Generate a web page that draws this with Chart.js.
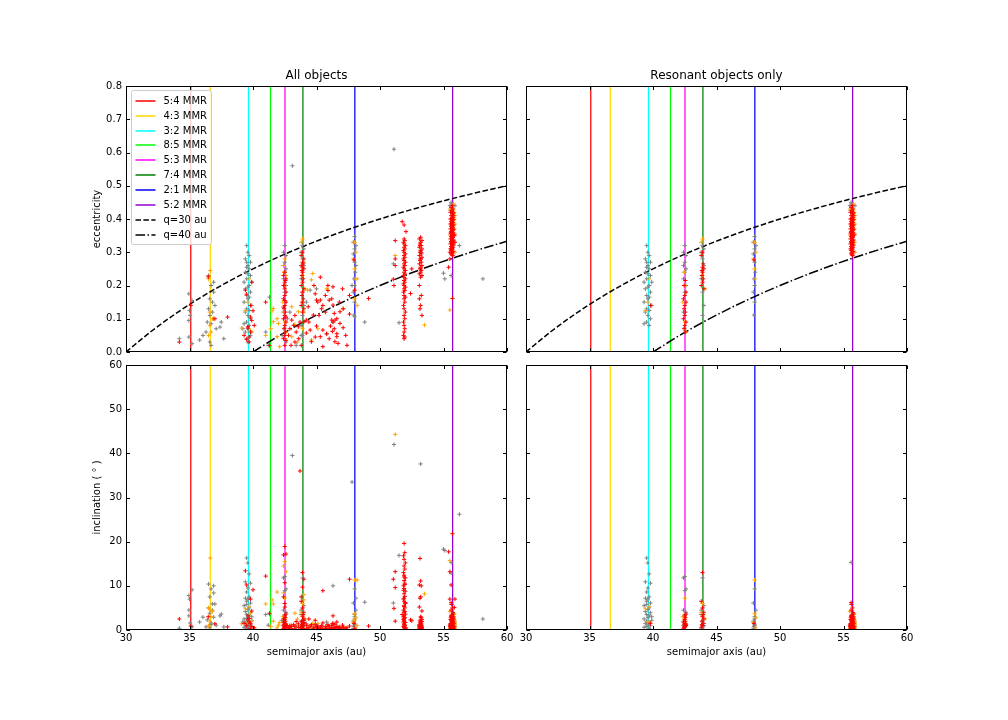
<!DOCTYPE html>
<html><head><meta charset="utf-8">
<script src="https://cdn.jsdelivr.net/npm/chart.js@4.4.0/dist/chart.umd.min.js"></script>
<style>
html,body{margin:0;padding:0;background:#fff;}
#wrap{position:relative;width:1008px;height:720px;overflow:hidden;}
canvas{position:absolute;left:0;top:0;pointer-events:none;}
</style></head><body>
<div id="wrap">
<canvas id="cTL" width="1008" height="720"></canvas>
<canvas id="cTR" width="1008" height="720"></canvas>
<canvas id="cBL" width="1008" height="720"></canvas>
<canvas id="cBR" width="1008" height="720"></canvas>
</div>
<script>
// ---------- axes / ticks ----------
const xTicks = [30, 35, 40, 45, 50, 55, 60];
const eTicks = [0, 0.1, 0.2, 0.3, 0.4, 0.5, 0.6, 0.7, 0.8];
const iTicks = [0, 10, 20, 30, 40, 50, 60];

// ---------- resonance locations ----------
const resLabels = ['5:4 MMR', '4:3 MMR', '3:2 MMR', '8:5 MMR', '5:3 MMR', '7:4 MMR', '2:1 MMR', '5:2 MMR'];
const resA = [35.10, 36.64, 39.64, 41.38, 42.52, 43.93, 48.02, 55.72];
const resColors = ['#ff0000', '#ffd700', '#00ffff', '#00ff00', '#ff00ff', '#008000', '#0000ff', '#9400d3'];

// ---------- perihelion curves (a, e) ----------
const q30A = [30, 32, 34, 36, 38, 40, 42, 44, 46, 48, 50, 52, 54, 56, 58, 60];
const q30E = [0, 0.0625, 0.1176, 0.1667, 0.2105, 0.25, 0.2857, 0.3182, 0.3478, 0.375, 0.4, 0.4231, 0.4444, 0.4643, 0.4828, 0.5];
const q40A = [40, 42, 44, 46, 48, 50, 52, 54, 56, 58, 60];
const q40E = [0, 0.0476, 0.0909, 0.1304, 0.1667, 0.2, 0.2308, 0.2593, 0.2857, 0.3103, 0.3333];

// ---------- objects: [a (au), e, i (deg), resonant flag] ----------
const gray54 = [[34.95,0.175,7.8],[35.2,0.155,9.1],[35.0,0.125,7.0],[34.95,0.095,4.5],[34.95,0.045,3.2],[35.05,0.11,1.6],[35.2,0.025,0.7],[34.2,0.04,0.4]];
const red54 = [[34.2,0.03,2.5],[35.1,0.14,0.9]];

const gray43 = [[36.5,0.23,10.4],[36.9,0.21,10.0],[36.7,0.2,9.3],[36.9,0.18,8.4],[36.6,0.16,7.5],[36.8,0.15,5.9],[37.0,0.14,5.9],[36.5,0.13,5.0],[36.8,0.12,4.5],[36.6,0.11,3.8],[36.9,0.1,2.9],[36.4,0.09,2.3],[36.7,0.085,1.6],[37.1,0.07,1.1],[36.3,0.06,0.7],[36.06,0.05,2.9],[35.8,0.036,1.8],[37.5,0.09,3.6],[37.4,0.075,3.2],[37.7,0.04,0.7],[36.6,0.03,0.5],[36.7,0.02,1.2]];
const orange43 = [[36.64,0.245,16.3],[36.5,0.22,5.0],[36.6,0.12,4.6],[36.8,0.1,4.2],[36.6,0.08,2.0],[36.7,0.06,3.0],[36.5,0.05,1.0]];
const red43 = [[36.48,0.226,3.0],[37.0,0.1,1.4],[38.0,0.105,0.7]];

const gray32 = [[39.5,0.32,16.3,1],[39.6,0.30,15.2,1],[39.7,0.29,12.7,1],[39.4,0.28,10.9,1],[39.8,0.27,10.6,1],[39.6,0.26,9.5,1],[39.5,0.255,8.6,1],[39.7,0.25,7.5,1],[39.4,0.24,7.2,1],[39.6,0.235,7.0,1],[39.8,0.23,6.1,1],[39.5,0.22,5.8,1],[39.3,0.21,5.5,1],[39.7,0.2,5.0,1],[39.6,0.195,4.6,1],[39.4,0.19,4.2,1],[39.8,0.18,3.9,1],[39.5,0.17,3.5,1],[39.7,0.165,3.2,1],[39.6,0.16,2.8,1],[39.3,0.15,2.5,1],[39.9,0.14,2.2,1],[39.5,0.13,2.0,1],[39.7,0.125,1.7,1],[39.4,0.12,1.5,1],[39.6,0.11,1.3,1],[39.8,0.1,1.0,1],[39.5,0.09,0.8,1],[39.3,0.085,0.6,1],[39.7,0.08,0.4,1],[39.6,0.07,0.3,0],[39.4,0.06,0.5,0],[39.8,0.05,1.2,0],[39.5,0.04,2.6,0],[39.6,0.03,0.9,0],[39.2,0.07,1.8,0],[39.9,0.21,3.0,1],[39.5,0.27,6.5,1]];
const red32 = [[39.4,0.186,13.4],[39.5,0.174,10.2],[40.0,0.124,9.1],[39.8,0.105,7.0],[39.9,0.095,4.3],[39.6,0.072,3.2],[39.7,0.045,1.8],[39.5,0.038,1.0],[40.1,0.08,0.5],[39.6,0.076,2.3],[39.8,0.06,0.3],[39.3,0.05,1.5],[39.9,0.21,0.8],[39.7,0.03,2.6],[39.8,0.14,1.5,1]];
const orange32 = [[39.4,0.124,4.8,1],[39.1,0.072,1.4],[39.8,0.065,3.9],[39.9,0.06,2.0],[39.6,0.15,1.8,1],[39.7,0.22,5.3,1]];

const gray85 = [[41.3,0.165,3.6],[41.2,0.02,1.1],[41.0,0.06,3.5]];
const orange85 = [[41.5,0.124,6.8],[41.0,0.05,5.9],[41.4,0.07,0.8],[41.9,0.1,8.6]];
const red85 = [[41.0,0.15,12.2],[41.3,0.02,3.8]];

const gray53 = [[42.5,0.32,12.1,1],[42.4,0.30,11.8,1],[42.6,0.29,9.3,1],[42.5,0.27,8.9,1],[42.4,0.26,4.5,1],[42.6,0.25,4.0,1],[42.5,0.24,3.0,1],[42.4,0.22,2.0,1],[42.6,0.20,1.5,1],[42.5,0.18,3.5,1],[42.4,0.12,1.0,1],[42.5,0.072,0.6,1],[42.3,0.05,2.2],[42.7,0.10,0.4],[42.6,0.03,1.2]];
const red53 = [[42.5,0.24,18.9],[42.4,0.23,17.0],[42.6,0.22,17.2],[42.5,0.21,10.7],[42.4,0.2,7.5],[42.5,0.19,5.2],[42.6,0.18,3.6,1],[42.5,0.17,2.4,1],[42.4,0.16,1.8,1],[42.6,0.15,1.2,1],[42.5,0.14,0.8,1],[42.45,0.13,0.5,1],[42.55,0.12,2.8,1],[42.5,0.11,1.5,1],[42.4,0.10,0.3,1],[42.6,0.09,1.0,1],[42.5,0.08,3.2,1],[42.45,0.07,0.7,1],[42.55,0.06,2.0,1],[42.5,0.05,0.4],[42.4,0.04,1.1],[42.6,0.035,0.9],[42.5,0.02,0.2],[42.5,0.155,6.0],[42.4,0.135,2.5],[42.6,0.105,0.6],[42.45,0.2,1.3,1],[42.55,0.215,0.9,1]];
const orange53 = [[42.5,0.28,15.5],[42.4,0.26,14.5],[42.6,0.23,13.2],[42.5,0.2,7.2,1],[42.4,0.12,8.4],[42.5,0.09,2.5,1],[42.6,0.06,1.0,1],[42.55,0.04,0.5],[42.35,0.15,3.0,1],[42.45,0.24,1.8,1]];

const gray74 = [[43.9,0.32,11.8,1],[44.0,0.31,5.5,1],[43.8,0.3,3.5,1],[43.9,0.28,2.0,1],[44.0,0.26,1.0,1],[43.8,0.22,4.5,1],[43.9,0.18,0.5,1],[44.0,0.14,1.5,1],[43.9,0.11,0.8,1],[43.8,0.08,0.3],[43.9,0.05,1.0],[43.1,0.56,39.5]];
const red74 = [[43.9,0.30,13.0,1],[43.8,0.29,6.5,1],[44.0,0.28,11.5],[43.9,0.27,9.7],[43.8,0.26,7.5],[43.9,0.255,5.0,1],[44.0,0.25,4.0,1],[43.9,0.24,3.0,1],[43.85,0.23,2.0,1],[43.95,0.22,1.5,1],[43.9,0.21,1.0,1],[43.8,0.2,0.5,1],[44.0,0.19,2.5,1],[43.9,0.18,0.8],[43.85,0.17,1.8],[43.95,0.16,0.3],[43.9,0.15,1.2],[43.8,0.14,0.6],[44.0,0.13,2.2],[43.9,0.12,0.4],[43.7,0.09,36.0],[43.95,0.265,3.5,1],[43.85,0.245,1.2,1]];
const orange74 = [[43.9,0.34,6.0,1],[43.8,0.33,4.0,1],[44.0,0.27,8.0],[43.9,0.23,3.3,1],[44.1,0.19,2.5,1],[43.85,0.15,1.0],[44.0,0.12,6.8],[43.9,0.07,0.5]];

const redCls = [[45.3,0.225,0.4],[45.9,0.185,1.2],[45.0,0.156,0.6],[45.1,0.15,0.9],[46.0,0.156,0.3],[46.3,0.141,1.5],[46.8,0.15,0.7],[44.35,0.136,0.5],[45.4,0.13,1.0],[44.75,0.111,0.3],[45.7,0.12,0.8],[46.46,0.096,1.3],[46.85,0.121,0.4],[44.2,0.096,1.1],[45.0,0.078,0.5],[46.1,0.078,0.2],[44.5,0.066,0.9],[45.5,0.066,1.6],[46.4,0.07,0.6],[43.57,0.076,1.4],[43.05,0.096,0.8],[43.3,0.11,0.4],[42.9,0.07,1.0],[44.2,0.057,0.3],[45.3,0.046,0.7],[46.6,0.046,0.5],[44.6,0.031,1.2],[45.5,0.016,0.4],[43.6,0.04,0.6],[43.4,0.06,1.9],[45.3,0.156,0.2],[45.9,0.2,0.8],[46.3,0.196,0.5],[47.05,0.19,1.1],[46.2,0.16,0.3],[47.1,0.13,0.6],[47.6,0.114,0.9],[46.4,0.116,0.4],[46.2,0.096,1.0],[46.85,0.086,0.3],[47.1,0.073,0.5],[46.25,0.062,1.4],[46.6,0.055,0.8],[46.45,0.031,0.2],[46.7,0.026,0.6],[44.9,0.175,2.2],[44.0,0.09,1.7],[43.3,0.03,0.9],[44.8,0.2,0.7],[45.7,0.17,0.4],[46.6,0.1,1.8],[45.2,0.11,0.2],[44.4,0.09,2.5],[46.0,0.04,0.9],[45.8,0.055,0.3],[44.9,0.045,1.3],[47.3,0.05,0.4],[43.8,0.02,0.6],[45.5,0.14,8.9],[46.3,0.09,3.2],[47.6,0.17,11.5],[49.1,0.161,0.9],[47.4,0.02,0.5],[43.0,0.02,0.3],[42.8,0.05,0.5],[43.2,0.08,1.2]];
const orangeCls = [[44.7,0.236,1.5],[45.8,0.19,0.8],[41.6,0.131,2.0],[42.0,0.086,1.1],[41.9,0.046,0.5],[43.05,0.136,1.2],[43.3,0.083,3.8],[43.05,0.046,0.3],[43.57,0.121,1.0],[44.6,0.036,0.6],[44.6,0.217,0.4],[42.1,0.016,1.7],[41.6,0.091,5.9],[43.5,0.03,2.5],[45.1,0.07,1.5],[47.1,0.13,0.8],[44.3,0.186,1.1],[48.2,0.22,11.3]];
const grayCls = [[45.0,0.19,1.0],[44.5,0.186,0.4],[45.8,0.054,1.8],[43.8,0.05,2.0],[46.3,0.09,10.0],[43.4,0.02,0.8],[44.2,0.15,1.5],[42.9,0.12,0.6],[48.8,0.09,6.3]];

const gray21 = [[48.0,0.347,9.3,1],[47.9,0.33,6.1,1],[48.1,0.32,4.5,1],[48.0,0.31,3.0,1],[47.9,0.295,2.0,1],[48.0,0.27,1.2,1],[48.05,0.24,0.6,1],[47.95,0.22,1.5,1],[48.0,0.2,2.5,1],[47.9,0.18,0.4,1],[48.0,0.15,1.0,1],[47.95,0.111,0.8,1],[48.0,0.106,3.5],[47.8,0.2,33.5],[48.1,0.26,7.2]];
const orange21 = [[48.0,0.33,11.3,1],[48.1,0.3,2.8,1],[47.9,0.28,1.8,1],[48.0,0.25,3.7,1],[48.05,0.22,0.5,1],[48.0,0.16,2.2],[48.2,0.14,1.0]];
const red21 = [[47.95,0.277,1.5,1],[48.0,0.186,0.3]];

const red52col = [[51.75,0.392,3.5],[51.9,0.382,1.2],[52.05,0.362,0.5],[51.9,0.34,19.6],[51.95,0.335,17.5],[51.85,0.33,16.8],[51.9,0.325,16.0],[52.0,0.32,15.2],[51.9,0.315,14.5],[51.95,0.31,13.8],[51.85,0.305,13.0],[51.9,0.3,12.4],[52.0,0.295,11.8],[51.9,0.29,11.2],[51.95,0.285,10.6],[51.85,0.28,10.0],[51.9,0.275,9.4],[52.0,0.27,8.8],[51.9,0.265,8.2],[51.95,0.26,7.6],[51.85,0.255,7.0],[51.9,0.25,6.5],[52.0,0.245,6.0],[51.9,0.24,5.5],[51.95,0.235,5.0],[51.85,0.23,4.5],[51.9,0.225,4.0],[52.0,0.22,3.6],[51.9,0.215,3.2],[51.95,0.21,2.8],[51.85,0.205,2.4],[51.9,0.2,2.0],[52.0,0.195,1.7],[51.9,0.19,1.4],[51.95,0.185,1.1],[51.85,0.18,0.8],[51.9,0.17,0.5],[52.0,0.165,0.3],[51.9,0.16,12.0],[51.95,0.15,10.3],[51.85,0.14,9.0],[51.9,0.13,7.2],[52.0,0.12,6.2],[51.9,0.11,5.3],[51.95,0.1,4.2],[51.85,0.09,3.0],[51.9,0.08,2.2],[51.95,0.07,1.0],[51.9,0.06,0.6],[51.85,0.05,1.8],[51.95,0.045,0.2],[51.9,0.04,2.6],[51.2,0.335,13.2],[51.2,0.28,9.6],[51.05,0.219,11.5],[51.1,0.2,4.9],[52.4,0.176,2.3],[51.2,0.26,2.0],[52.5,0.25,2.1]];
const gray52col = [[51.05,0.265,6.1],[51.5,0.088,16.9],[51.1,0.61,42.0]];
const orange52col = [[51.2,0.29,44.3]];

const red53col = [[53.2,0.345,0.3],[53.1,0.34,1.0],[53.3,0.335,0.6],[53.2,0.33,2.0],[53.15,0.325,0.2],[53.25,0.32,1.4],[53.1,0.315,0.8],[53.3,0.31,0.4],[53.2,0.305,1.8],[53.15,0.3,0.1],[53.25,0.295,1.1],[53.1,0.29,0.5],[53.3,0.285,2.4],[53.2,0.28,0.7],[53.15,0.275,1.6],[53.25,0.27,0.3],[53.1,0.265,1.2],[53.3,0.26,0.9],[53.2,0.255,0.2],[53.15,0.25,2.2],[53.25,0.245,0.6],[53.2,0.24,1.3],[53.1,0.235,0.4],[53.3,0.23,1.9],[53.2,0.225,0.8],[53.15,0.32,16.2],[53.2,0.25,11.1],[53.1,0.2,10.2],[53.25,0.17,10.0],[53.2,0.14,7.5],[53.15,0.13,7.2],[53.1,0.16,5.2],[53.3,0.11,4.3],[53.2,0.28,3.0],[53.25,0.3,2.8]];
const gray53col = [[53.2,0.3,37.6]];
const orange53col = [[53.5,0.081,8.2]];

const red52 = [[55.7,0.44,0.5,1],[55.6,0.435,1.2,1],[55.75,0.43,0.3,1],[55.65,0.425,2.0,1],[55.55,0.42,0.8,1],[55.8,0.418,1.5,1],[55.7,0.415,0.2,1],[55.6,0.41,3.0,1],[55.75,0.405,0.6,1],[55.65,0.402,1.8,1],[55.55,0.4,0.4,1],[55.8,0.398,2.5,1],[55.7,0.395,1.0,1],[55.6,0.392,0.1,1],[55.75,0.39,4.0,1],[55.65,0.387,0.7,1],[55.55,0.385,1.4,1],[55.8,0.382,0.3,1],[55.7,0.38,2.2,1],[55.6,0.377,0.9,1],[55.75,0.375,0.5,1],[55.65,0.372,3.4,1],[55.55,0.37,1.1,1],[55.8,0.368,0.2,1],[55.7,0.365,1.6,1],[55.6,0.362,0.6,1],[55.75,0.36,2.8,1],[55.65,0.357,0.4,1],[55.55,0.355,1.3,1],[55.85,0.352,0.8,1],[55.7,0.35,5.0,1],[55.6,0.347,0.3,1],[55.75,0.345,1.9,1],[55.65,0.342,0.7,1],[55.55,0.34,2.4,1],[55.8,0.337,0.2,1],[55.7,0.335,1.2,1],[55.6,0.332,6.2,1],[55.75,0.33,0.5,1],[55.65,0.327,1.7,1],[55.55,0.325,0.9,1],[55.8,0.322,3.0,1],[55.7,0.32,0.4,1],[55.6,0.317,1.5,1],[55.75,0.315,0.1,1],[55.65,0.312,2.6,1],[55.55,0.31,0.8,1],[55.7,0.307,1.1,1],[55.6,0.305,4.5,1],[55.75,0.302,0.3,1],[55.65,0.3,1.4,1],[55.7,0.297,0.6,1],[55.6,0.295,2.1,1],[55.68,0.292,0.9,1],[55.72,0.29,0.2,1],[55.62,0.385,5.8,1],[55.78,0.41,3.6,1],[55.58,0.36,2.9,1],[55.68,0.42,1.0,1],[55.72,0.37,0.4,1],[55.62,0.33,3.3,1],[55.66,0.4,0.5,1],[55.74,0.35,1.6,1],[55.64,0.38,0.9,1],[55.7,0.31,2.3,1],[55.4,0.255,17.7],[55.7,0.161,21.8],[55.5,0.30,13.2],[55.6,0.31,10.2],[55.5,0.28,7.0],[55.9,0.33,7.0],[55.85,0.35,5.1]];
const orange52 = [[55.8,0.445,1.0,1],[55.75,0.43,2.2,1],[55.85,0.42,0.6,1],[55.9,0.41,1.5,1],[55.85,0.4,3.6,1],[55.9,0.385,0.8,1],[55.85,0.37,2.5,1],[55.9,0.355,1.2,1],[55.5,0.43,4.2,1],[55.55,0.35,0.5,1],[55.88,0.33,1.8,1],[55.92,0.3,0.4,1],[55.5,0.126,15.7]];
const gray52 = [[55.6,0.45,15.3,1],[55.5,0.44,1.0,1],[55.65,0.445,3.0,1],[55.55,0.425,0.5,1],[55.9,0.44,2.0,1],[55.0,0.237,18.3],[55.1,0.22,18.0],[56.25,0.32,26.2],[58.1,0.22,2.5],[55.6,0.23,12.9]];

const grayAll = [].concat(gray54, gray43, gray32, gray85, gray53, gray74, grayCls, gray21, gray52col, gray53col, gray52);
const orangeAll = [].concat(orange43, orange32, orange85, orange53, orange74, orangeCls, orange21, orange52col, orange53col, orange52);
const redAll = [].concat(red54, red43, red32, red85, red53, red74, redCls, red21, red52col, red53col, red52);

// ---------- chart building ----------
Chart.defaults.font.family = 'DejaVu Sans';
Chart.defaults.font.size = 10;
Chart.defaults.color = '#000';

function pts(list, col, onlyRes) {
  return list.filter(p => !onlyRes || p[3] === 1).map(p => ({x: p[0], y: p[col]}));
}

function curve(xs, ys) { return xs.map((x, k) => ({x: x, y: ys[k]})); }

const framePlugin = {
  id: 'frame',
  afterDraw(chart, args, opts) {
    const ctx = chart.ctx;
    const a = chart.chartArea;
    const xs = chart.scales.x, ys = chart.scales.y;
    const L = Math.round(a.left) + 0.5, R = Math.round(a.right) - 0.5;
    const T = Math.round(a.top) + 0.5, B = Math.round(a.bottom) - 0.5;
    ctx.save();
    ctx.strokeStyle = '#000';
    ctx.lineWidth = 1;
    ctx.beginPath();
    for (const v of xTicks) {
      const px = Math.round(xs.getPixelForValue(v)) + 0.5;
      ctx.moveTo(px, B); ctx.lineTo(px, B - 3.5);
      ctx.moveTo(px, T); ctx.lineTo(px, T + 3.5);
    }
    for (const v of opts.yTicks) {
      const py = Math.round(ys.getPixelForValue(v)) + 0.5;
      ctx.moveTo(L, py); ctx.lineTo(L + 3.5, py);
      ctx.moveTo(R, py); ctx.lineTo(R - 3.5, py);
    }
    ctx.stroke();
    ctx.strokeRect(L, T, R - L, B - T);
    ctx.restore();

    if (opts.legend) {
      const items = chart.data.datasets.filter(d => d.inLegend);
      const x0 = Math.round(a.left + 5) + 0.5, y0 = Math.round(a.top + 4) + 0.5;
      const rowH = 14.9;
      ctx.save();
      ctx.font = '10px "DejaVu Sans"';
      let tw = 0;
      for (const d of items) tw = Math.max(tw, ctx.measureText(d.label).width);
      const w = Math.round(32 + tw + 5), h = Math.round(items.length * rowH + 5);
      ctx.beginPath();
      if (ctx.roundRect) ctx.roundRect(x0, y0, w, h, 2); else ctx.rect(x0, y0, w, h);
      ctx.fillStyle = 'rgba(255,255,255,0.8)';
      ctx.fill();
      ctx.strokeStyle = '#cccccc';
      ctx.lineWidth = 1;
      ctx.stroke();
      ctx.restore();
      items.forEach((d, k) => {
        const yy = Math.round(y0 + 10.2 + k * rowH);
        ctx.save();
        ctx.beginPath();
        ctx.strokeStyle = d.borderColor;
        ctx.lineWidth = 1.5;
        ctx.setLineDash(d.borderDash || []);
        ctx.moveTo(x0 + 4, yy); ctx.lineTo(x0 + 24, yy);
        ctx.stroke();
        ctx.restore();
        ctx.save();
        ctx.font = '10px "DejaVu Sans"';
        ctx.fillStyle = '#000';
        ctx.textAlign = 'left';
        ctx.textBaseline = 'middle';
        ctx.fillText(d.label, x0 + 32, yy);
        ctx.restore();
      });
    }
  }
};

function makeChart(id, cfg) {
  const yMax = cfg.top ? 0.8 : 60;
  const col = cfg.top ? 1 : 2;
  const ds = [];
  resA.forEach((a, k) => {
    ds.push({type: 'line', label: resLabels[k], inLegend: true,
      data: [{x: a, y: 0}, {x: a, y: yMax}],
      borderColor: resColors[k], backgroundColor: resColors[k], borderWidth: 1.25,
      pointRadius: 0, order: 10, clip: 0});
  });
  if (cfg.top) {
    ds.push({type: 'line', label: 'q=30 au', inLegend: true, data: curve(q30A, q30E),
      borderColor: '#000', backgroundColor: '#000', borderWidth: 1.5, borderDash: [5.5, 2.4],
      pointRadius: 0, cubicInterpolationMode: 'monotone', order: 9, clip: 0});
    ds.push({type: 'line', label: 'q=40 au', inLegend: true, data: curve(q40A, q40E),
      borderColor: '#000', backgroundColor: '#000', borderWidth: 1.5, borderDash: [9.6, 2.4, 1.5, 2.4],
      pointRadius: 0, cubicInterpolationMode: 'monotone', order: 9, clip: 0});
  }
  const groups = [[grayAll, '#808080', 3], [orangeAll, '#ffa500', 2], [redAll, '#ff0000', 1]];
  for (const [list, color, ord] of groups) {
    ds.push({type: 'scatter', label: color, data: pts(list, col, cfg.res),
      pointStyle: 'cross', pointRadius: 2.1, pointBorderWidth: 1,
      borderColor: color, backgroundColor: color, pointBorderColor: color, pointBackgroundColor: color,
      showLine: false, order: ord, clip: 0});
  }
  const tickSet = cfg.top ? eTicks : iTicks;
  return new Chart(document.getElementById(id), {
    type: 'scatter',
    data: {datasets: ds},
    options: {
      responsive: false, animation: false, events: [],
      layout: {padding: {left: cfg.left ? 91 : 526, right: cfg.left ? 501 : 101,
        top: cfg.top ? 68.8 : 365, bottom: cfg.top ? 368 : 62}},
      plugins: {
        legend: {display: false}, tooltip: {enabled: false},
        title: {display: cfg.top, text: cfg.left ? 'All objects' : 'Resonant objects only',
          font: {size: 12, weight: 'normal'}, color: '#000', padding: {top: 0, bottom: 2.8}, fullSize: false},
        frame: {yTicks: tickSet, legend: cfg.top && cfg.left}
      },
      scales: {
        x: {type: 'linear', min: xTicks[0], max: xTicks[xTicks.length - 1], display: !cfg.top,
          grid: {display: false, drawTicks: false, tickLength: 0}, border: {display: false},
          ticks: {stepSize: 5, autoSkip: false, maxRotation: 0, padding: 2, color: '#000', font: {size: 10},
            callback: v => String(v)},
          title: {display: true, text: 'semimajor axis (au)', color: '#000', font: {size: 10}, padding: 0},
          afterFit: s => { s.height = cfg.top ? 0 : 28; }},
        y: {type: 'linear', min: tickSet[0], max: tickSet[tickSet.length - 1], display: cfg.left,
          grid: {display: false, drawTicks: false, tickLength: 0}, border: {display: false},
          ticks: {stepSize: cfg.top ? 0.1 : 10, autoSkip: false, padding: 4, color: '#000', font: {size: 10},
            callback: v => cfg.top ? Number(v).toFixed(1) : String(Math.round(v))},
          title: {display: true, text: cfg.top ? 'eccentricity' : 'inclination ( \u00b0 )', color: '#000',
            font: {size: 10}, padding: 0},
          afterFit: s => { s.width = cfg.left ? 35 : 0; }}
      }
    },
    plugins: [framePlugin]
  });
}

makeChart('cTL', {top: true, left: true, res: false});
makeChart('cTR', {top: true, left: false, res: true});
makeChart('cBL', {top: false, left: true, res: false});
makeChart('cBR', {top: false, left: false, res: true});
</script>
</body></html>
